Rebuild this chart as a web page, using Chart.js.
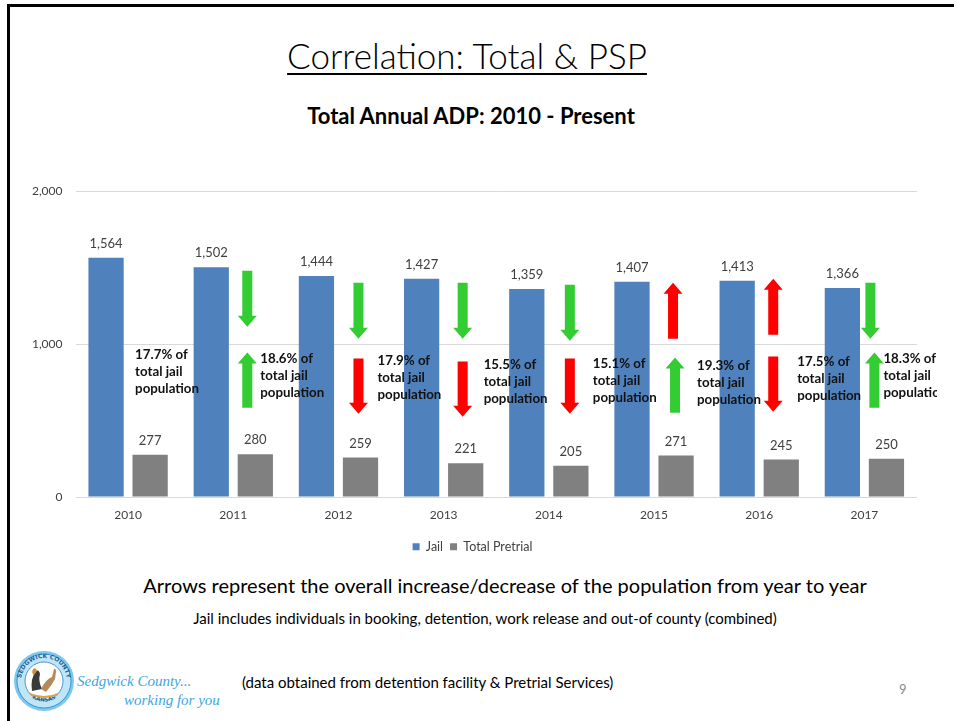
<!DOCTYPE html>
<html>
<head>
<meta charset="utf-8">
<script src="https://cdn.jsdelivr.net/npm/chart.js@4/dist/chart.umd.min.js"></script>
<style>
  html, body { margin: 0; padding: 0; background: #fff; }
  #slide { position: relative; width: 954px; height: 721px; overflow: hidden; background: #fff; font-family: Lato, "Open Sans", sans-serif; color: #000; }
  .bt { position: absolute; left: 7px; top: 4px; width: 947px; height: 3px; background: #000; }
  .bl { position: absolute; left: 7px; top: 4px; width: 3px; height: 717px; background: #000; }
  .t { position: absolute; white-space: nowrap; line-height: 1; transform: translateX(-50%); }
  #title { left: 467px; top: 38px; font-size: 35px; font-weight: 300; text-decoration: underline; text-decoration-thickness: 2px; text-underline-offset: 4px; }
  #subtitle { left: 471px; top: 105px; font-size: 22px; font-weight: 700; }
  #note1 { left: 505px; top: 575px; font-size: 20px; }
  #note2 { left: 485px; top: 611px; font-size: 15px; }
  #source { position: absolute; left: 242px; top: 675px; font-size: 15px; white-space: nowrap; line-height: 1; }
  #pnum { position: absolute; left: 899px; top: 683px; font-size: 13px; color: #8c8c8c; line-height: 1; }
  #chartWrap { position: absolute; left: 0; top: 170px; width: 954px; height: 393px; }
  #logo { position: absolute; left: 12px; top: 649px; }
  .lt { position: absolute; font-family: "Liberation Serif", "DejaVu Serif", serif; font-style: italic; color: #3ea6de; font-size: 15px; white-space: nowrap; line-height: 1; }
</style>
</head>
<body>
<div id="slide">
  <div class="bt"></div>
  <div class="bl"></div>
  <div id="title" class="t">Correlation: Total &amp; PSP</div>
  <div id="subtitle" class="t">Total Annual ADP: 2010 - Present</div>
  <div id="chartWrap"><canvas id="c" width="954" height="393"></canvas></div>
  <div id="note1" class="t">Arrows represent the overall increase/decrease of the population from year to year</div>
  <div id="note2" class="t">Jail includes individuals in booking, detention, work release and out-of county (combined)</div>
  <svg id="logo" width="64" height="64" viewBox="0 0 64 64">
    <defs>
      <path id="arcTop" d="M 9 32 A 23 23 0 0 1 55 32" />
      <path id="arcBot" d="M 12 38 A 21 21 0 0 0 52 38" />
    </defs>
    <circle cx="32" cy="32" r="30" fill="#7cc8ee" />
    <circle cx="32" cy="32" r="27" fill="#bfe6f8" stroke="#2a7fbf" stroke-width="0.8" />
    <circle cx="32" cy="32" r="19" fill="#ffffff" stroke="#2a7fbf" stroke-width="0.8" />
    <text font-size="6" font-family="DejaVu Sans" font-weight="bold" fill="#1d5f9a"><textPath href="#arcTop" startOffset="50%" text-anchor="middle">SEDGWICK COUNTY</textPath></text>
    <text font-size="5.5" font-family="DejaVu Sans" font-weight="bold" fill="#1d5f9a"><textPath href="#arcBot" startOffset="50%" text-anchor="middle">KANSAS</textPath></text>
    <path d="M 20 42 Q 18 30 24 22 Q 27 20 28 25 Q 26 32 30 40 Z" fill="#3a3a3a" />
    <path d="M 22 26 Q 19 24 21 20 Q 24 18 25 22 Z" fill="#d98c2b" />
    <path d="M 29 40 Q 34 30 40 28 L 42 20 Q 44 19 44 23 L 43 30 Q 40 36 34 43 Z" fill="#b58a5a" />
    <path d="M 18 44 Q 32 50 46 44 L 46 46 Q 32 52 18 46 Z" fill="#d9a441" />
  </svg>
  <div class="lt" style="left:77px; top:674px;">Sedgwick County...</div>
  <div class="lt" style="left:124px; top:693px;">working for you</div>
  <div id="source">(data obtained from detention facility &amp; Pretrial Services)</div>
  <div id="pnum">9</div>
</div>
<script>
// ---- data ----
const years = ['2010', '2011', '2012', '2013', '2014', '2015', '2016', '2017'];
const jail = [1564, 1502, 1444, 1427, 1359, 1407, 1413, 1366];
const pretrial = [277, 280, 259, 221, 205, 271, 245, 250];
const shareOfJail = ['17.7%', '18.6%', '17.9%', '15.5%', '15.1%', '19.3%', '17.5%', '18.3%'];
const yTickValues = [0, 1000, 2000];
const seriesNames = ['Jail', 'Total Pretrial'];

// ---- annotation layout (pixel offsets from each category centre) ----
const arrowDx = [0, 14, 20, 19, 21, 19, 14, 6];
const preArrowDx = [0, 14, 20, 19, 21, 21, 14, 10];
const jailArrowDy = [0, -12, 0, 0, 2, 0, -4, 0];
const preArrowDy = [0, -6, 0, 3, 0, -1, -2, -6];
const textDx = [7, 27, 39, 40, 44, 43, 38, 19];
const textDy = [11, 15, 17, 21, 20, 22, 18, 15];

const BLUE = '#4f81bd', GREY = '#808080', GREEN = '#33cc33', RED = '#ff0000';
const FONT = 'Lato, "Open Sans", sans-serif';

function drawArrow(ctx, cx, top, bottom, up, color) {
  const sw = 5, hw = 9.5, hl = 11;
  ctx.beginPath();
  if (up) {
    ctx.moveTo(cx, top);
    ctx.lineTo(cx + hw, top + hl);
    ctx.lineTo(cx + sw, top + hl);
    ctx.lineTo(cx + sw, bottom);
    ctx.lineTo(cx - sw, bottom);
    ctx.lineTo(cx - sw, top + hl);
    ctx.lineTo(cx - hw, top + hl);
  } else {
    ctx.moveTo(cx, bottom);
    ctx.lineTo(cx + hw, bottom - hl);
    ctx.lineTo(cx + sw, bottom - hl);
    ctx.lineTo(cx + sw, top);
    ctx.lineTo(cx - sw, top);
    ctx.lineTo(cx - sw, bottom - hl);
    ctx.lineTo(cx - hw, bottom - hl);
  }
  ctx.closePath();
  ctx.fillStyle = color;
  ctx.fill();
}

const annotations = {
  id: 'annotations',
  afterDatasetsDraw(chart) {
    const ctx = chart.ctx;
    const xs = chart.scales.x, ys = chart.scales.y;
    ctx.save();
    // value labels
    ctx.font = '13px ' + FONT;
    ctx.fillStyle = '#404040';
    ctx.textAlign = 'center';
    ctx.textBaseline = 'middle';
    chart.data.datasets.forEach((ds, di) => {
      chart.getDatasetMeta(di).data.forEach((bar, i) => {
        ctx.fillText(ds.data[i].toLocaleString('en-US'), bar.x, bar.y - 14);
      });
    });
    // arrows (year-over-year change)
    for (let i = 1; i < years.length; i++) {
      const cxJ = xs.getPixelForValue(i) + arrowDx[i];
      const jailUp = jail[i] > jail[i - 1];
      drawArrow(ctx, cxJ, ys.getPixelForValue(1400) + jailArrowDy[i], ys.getPixelForValue(1035) + jailArrowDy[i], jailUp, jailUp ? RED : GREEN);
      const cxP = xs.getPixelForValue(i) + preArrowDx[i];
      const preUp = pretrial[i] > pretrial[i - 1];
      drawArrow(ctx, cxP, ys.getPixelForValue(905) + preArrowDy[i], ys.getPixelForValue(545) + preArrowDy[i], preUp, preUp ? GREEN : RED);
    }
    // share text
    ctx.beginPath();
    ctx.rect(0, 0, 937, chart.height);
    ctx.clip();
    ctx.font = 'bold 13.3px ' + FONT;
    ctx.fillStyle = '#111111';
    ctx.textAlign = 'left';
    for (let i = 0; i < years.length; i++) {
      const x0 = xs.getPixelForValue(i) + textDx[i];
      const y0 = ys.getPixelForValue(1000) + textDy[i];
      ctx.fillText(shareOfJail[i] + ' of', x0, y0);
      ctx.fillText('total jail', x0, y0 + 17);
      ctx.fillText('population', x0, y0 + 34);
    }
    ctx.restore();
  }
};

new Chart(document.getElementById('c'), {
  type: 'bar',
  data: {
    labels: years,
    datasets: [
      { label: seriesNames[0], data: jail, backgroundColor: BLUE, barPercentage: 0.8, categoryPercentage: 0.838 },
      { label: seriesNames[1], data: pretrial, backgroundColor: GREY, barPercentage: 0.8, categoryPercentage: 0.838 }
    ]
  },
  options: {
    responsive: false,
    animation: false,
    devicePixelRatio: 1,
    layout: { padding: { left: 28, right: 37, top: 21, bottom: 0 } },
    plugins: {
      legend: {
        position: 'bottom',
        labels: {
          boxWidth: 7, boxHeight: 7, padding: 7,
          color: '#404040',
          font: { size: 12.5, family: FONT }
        }
      },
      tooltip: { enabled: false },
      title: { display: false }
    },
    scales: {
      x: {
        grid: { display: false, drawTicks: false },
        border: { display: false },
        ticks: { color: '#404040', padding: 11, font: { size: 12, family: FONT } }
      },
      y: {
        min: 0, max: 2000,
        afterBuildTicks: (axis) => { axis.ticks = yTickValues.map(v => ({ value: v })); },
        afterFit: (axis) => { axis.width = 47.5; },
        grid: { color: '#d9d9d9', drawTicks: false, lineWidth: 1 },
        border: { display: false },
        ticks: { color: '#404040', padding: 13, font: { size: 12, family: FONT } }
      }
    }
  },
  plugins: [annotations]
});
</script>
</body>
</html>
